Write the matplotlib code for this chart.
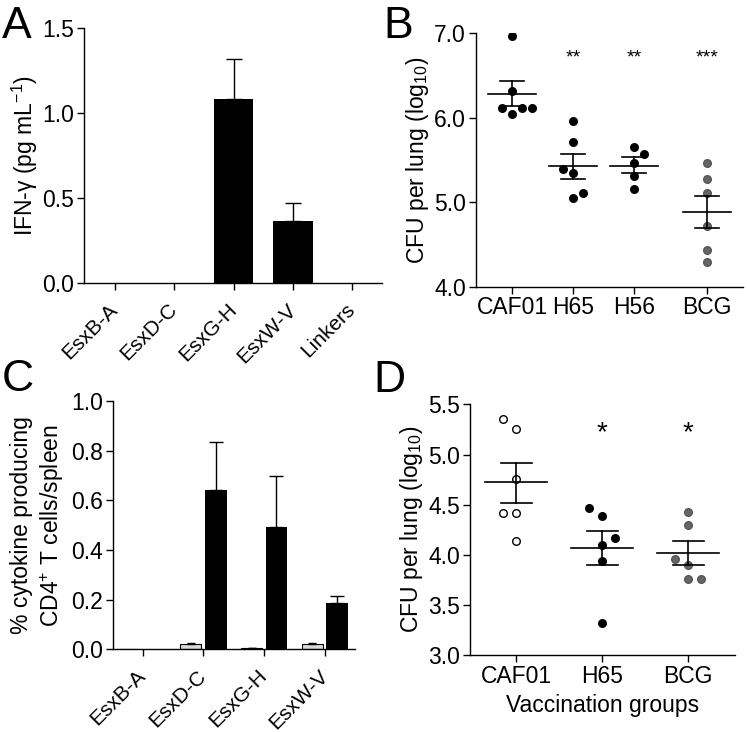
import numpy as np
import matplotlib
matplotlib.use("Agg")
import matplotlib.pyplot as plt

plt.rcParams['font.family'] = ['Liberation Sans', 'DejaVu Sans']
plt.rcParams['mathtext.fontset'] = 'custom'
plt.rcParams['mathtext.rm'] = 'Liberation Sans'
plt.rcParams['mathtext.it'] = 'Liberation Sans:italic'
plt.rcParams['font.size'] = 16.5
plt.rcParams['axes.linewidth'] = 1.0

FS = 16.5

# panel A
a_labels = ['EsxB-A', 'EsxD-C', 'EsxG-H', 'EsxW-V', 'Linkers']
a_vals = [0, 0, 1.08, 0.366, 0]
a_err = [0, 0, 0.24, 0.106, 0]

# panel B
b_groups = ['CAF01', 'H65', 'H56', 'BCG']
b_pos = [0, 1, 2, 3.2]
b_caf01 = [6.97, 6.32, 6.11, 6.05, 6.11, 6.11]
b_h65 = [5.96, 5.71, 5.39, 5.35, 5.05, 5.11]
b_h56 = [5.65, 5.57, 5.46, 5.31, 5.16]
b_bcg = [5.46, 5.28, 5.11, 4.72, 4.44, 4.29]
b_caf01_dx = [0, 0, -0.5, 0, 0.5, 1.0]
b_h65_dx = [0, 0, -0.5, 0, 0, 0.5]
b_h56_dx = [0, 0.5, 0, 0, 0]
b_bcg_dx = [0, 0, 0, 0, 0, 0]
b_sem_hi = [6.43, 5.57, 5.53, 5.07]
b_sem_lo = [6.14, 5.28, 5.35, 4.69]
b_stars = ['', '**', '**', '***']

# panel C
c_labels = ['EsxB-A', 'EsxD-C', 'EsxG-H', 'EsxW-V']
c_grey = [0, 0.02, 0.005, 0.02]
c_grey_err = [0, 0.004, 0.002, 0.004]
c_black = [0, 0.64, 0.491, 0.185]
c_black_err = [0, 0.195, 0.205, 0.03]

# panel D
d_groups = ['CAF01', 'H65', 'BCG']
d_caf01 = [5.35, 5.25, 4.76, 4.42, 4.42, 4.14]
d_h65 = [4.47, 4.39, 4.17, 4.10, 3.94, 3.32]
d_bcg = [4.43, 4.30, 3.96, 3.90, 3.76, 3.76]
d_caf01_dx = [-0.5, 0, 0, -0.5, 0, 0]
d_h65_dx = [-0.5, 0, 0.5, 0, 0, 0]
d_bcg_dx = [0, 0, -0.5, 0, 0, 0.5]
d_sem_hi = [4.92, 4.24, 4.14]
d_sem_lo = [4.52, 3.90, 3.90]
d_stars = ['', '*', '*']

W, H = 747, 732
fig = plt.figure(figsize=(W / 100, H / 100), dpi=100)


def add_ax(l, r, t, b):
    return fig.add_axes([l / W, 1 - b / H, (r - l) / W, (b - t) / H])


def style(ax):
    ax.spines['top'].set_visible(False)
    ax.spines['right'].set_visible(False)
    ax.tick_params(direction='out', length=5, width=1.0, labelsize=FS, pad=2)


def rotated_labels(ax, labels):
    ax.set_xticklabels(labels, rotation=45, ha='right', va='center',
                       rotation_mode='anchor', fontsize=15)
    ax.tick_params(axis='x', pad=12)


# ---- A
ax = add_ax(84, 382, 28, 283)
x = np.arange(len(a_labels))
ax.bar(x, a_vals, width=0.66, color='black')
ax.errorbar(x[2:4], a_vals[2:4], yerr=[[0, 0], a_err[2:4]], fmt='none',
            ecolor='black', elinewidth=1, capsize=6, capthick=1)
ax.set_xlim(-0.52, 4.5)
ax.set_ylim(0, 1.5)
ax.set_yticks([0, 0.5, 1.0, 1.5])
ax.set_yticklabels(['0.0', '0.5', '1.0', '1.5'])
ax.set_xticks(x)
ax.set_ylabel('IFN-γ (pg mL$^{-1}$)', labelpad=2)
style(ax)
rotated_labels(ax, a_labels)
fig.text(2 / W, 1 - 38 / H, 'A', fontsize=32)


def scatter_panel(ax, pos, groups, dxs, colors, fcs, hi, lo, half, cap, scale):
    for p, g, dx, c, fc, h, l in zip(pos, groups, dxs, colors, fcs, hi, lo):
        xs = p + np.array(dx) * scale
        ax.scatter(xs, g, s=30, c=fc, edgecolors=c, linewidths=1, zorder=3)
        m = np.mean(g)
        ax.plot([p - half, p + half], [m, m], color='black', lw=1.2, zorder=4)
        ax.plot([p - cap, p + cap], [h, h], color='black', lw=1.2, zorder=4)
        ax.plot([p - cap, p + cap], [l, l], color='black', lw=1.2, zorder=4)
        ax.plot([p, p], [l, h], color='black', lw=1.2, zorder=4)


# ---- B
ax = add_ax(475.7, 743, 33.3, 286.7)
scatter_panel(ax, b_pos, [b_caf01, b_h65, b_h56, b_bcg],
              [b_caf01_dx, b_h65_dx, b_h56_dx, b_bcg_dx],
              ['black', 'black', 'black', '#555555'],
              ['black', 'black', 'black', '#666666'],
              b_sem_hi, b_sem_lo, 0.4, 0.2, 0.33)
for p, s in zip(b_pos, b_stars):
    ax.text(p, 6.65, s, ha='center', va='baseline', fontsize=14)
ax.set_xlim(-0.595, 3.79)
ax.set_ylim(4.0, 7.0)
ax.set_yticks([4.0, 5.0, 6.0, 7.0])
ax.set_yticklabels(['4.0', '5.0', '6.0', '7.0'])
ax.set_xticks(b_pos)
ax.set_xticklabels(b_groups)
ax.set_ylabel('CFU per lung (log$_{10}$)', labelpad=2)
style(ax)
fig.text(383 / W, 1 - 38 / H, 'B', fontsize=32)

# ---- C
ax = add_ax(112.7, 355, 401, 649.3)
x = np.arange(len(c_labels))
ax.bar(x - 0.21, c_grey, width=0.34, color='#d9d9d9', edgecolor='black', linewidth=0.8)
ax.bar(x + 0.2, c_black, width=0.36, color='black')
ax.errorbar(x[1:] - 0.21, c_grey[1:], yerr=[[0] * 3, c_grey_err[1:]], fmt='none',
            ecolor='black', elinewidth=1, capsize=3, capthick=1)
ax.errorbar(x[1:] + 0.2, c_black[1:], yerr=[[0] * 3, c_black_err[1:]], fmt='none',
            ecolor='black', elinewidth=1, capsize=5, capthick=1)
ax.set_xlim(-0.49, 3.49)
ax.set_ylim(0, 1.0)
ax.set_yticks([0, 0.2, 0.4, 0.6, 0.8, 1.0])
ax.set_yticklabels(['0.0', '0.2', '0.4', '0.6', '0.8', '1.0'])
ax.set_xticks(x)
ax.set_ylabel('% cytokine producing\nCD4$^{+}$ T cells/spleen', labelpad=4)
style(ax)
rotated_labels(ax, c_labels)
fig.text(2 / W, 1 - 391 / H, 'C', fontsize=32)

# ---- D
ax = add_ax(469.7, 734.7, 404.3, 655.3)
d_pos = np.arange(len(d_groups))
scatter_panel(ax, d_pos, [d_caf01, d_h65, d_bcg],
              [d_caf01_dx, d_h65_dx, d_bcg_dx],
              ['black', 'black', '#555555'],
              ['white', 'black', '#666666'],
              d_sem_hi, d_sem_lo, 0.36, 0.18, 0.3)
for p, s in zip(d_pos, d_stars):
    ax.text(p, 5.14, s, ha='center', va='baseline', fontsize=20)
ax.set_xlim(-0.54, 2.54)
ax.set_ylim(3.0, 5.5)
ax.set_yticks([3.0, 3.5, 4.0, 4.5, 5.0, 5.5])
ax.set_yticklabels(['3.0', '3.5', '4.0', '4.5', '5.0', '5.5'])
ax.set_xticks(d_pos)
ax.set_xticklabels(d_groups)
ax.set_xlabel('Vaccination groups', labelpad=4)
ax.set_ylabel('CFU per lung (log$_{10}$)', labelpad=2)
style(ax)
fig.text(373 / W, 1 - 392 / H, 'D', fontsize=32)

fig.savefig('out.png', dpi=100)
